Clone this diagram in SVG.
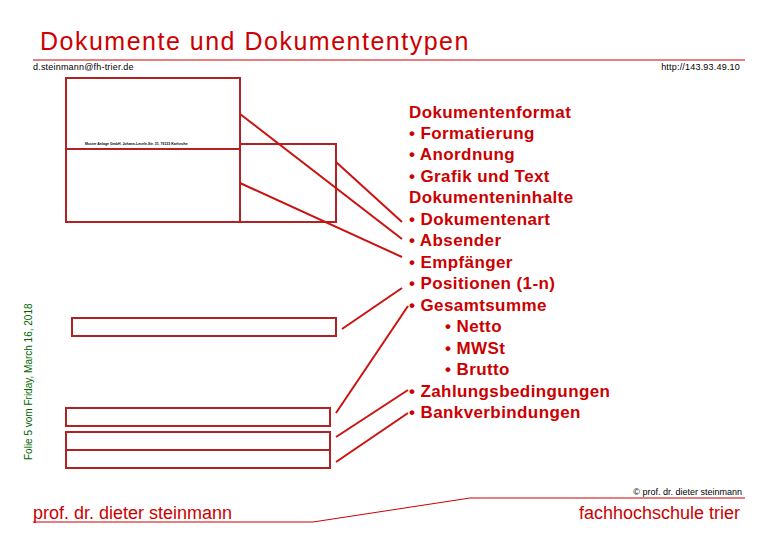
<svg xmlns="http://www.w3.org/2000/svg" width="780" height="540" viewBox="0 0 780 540">
<style>
text{font-family:"Liberation Sans",Arial,sans-serif}
.box{fill:none;stroke:#b22222;stroke-width:2}
.con line,.con polyline{stroke:#cc1111;stroke-width:2;fill:none}
.it{font-size:17px;font-weight:bold;fill:#cc0000;letter-spacing:0.4px}
</style>
<rect width="780" height="540" fill="#fff"/>
<text x="40" y="50" font-size="25" fill="#cc0000" letter-spacing="1.5">Dokumente und Dokumententypen</text>
<line x1="33" y1="60" x2="745" y2="60" stroke="#cc0000" stroke-width="1"/>
<text x="33" y="70" font-size="9" fill="#000" letter-spacing="0.2">d.steinmann@fh-trier.de</text>
<text x="740" y="70" font-size="9" fill="#000" text-anchor="end" letter-spacing="0.2">http://143.93.49.10</text>
<text transform="translate(32,460) rotate(-90)" font-size="10" fill="#006400">Folie 5 vom Friday, March 16, 2018</text>
<g id="doc-top"><rect class="box" x="66" y="78" width="174" height="144"/><line class="box" x1="66" y1="149" x2="240" y2="149"/><text x="85" y="145" font-size="3.5" font-weight="bold" fill="#000">Muster Anlage GmbH, Johann-Lesele-Str. 31, 76133 Karlsruhe</text></g>
<g id="doc-right"><rect class="box" x="240" y="144" width="96" height="78"/></g>
<g id="doc-bar1"><rect class="box" x="72" y="318" width="264" height="18"/></g>
<g id="doc-bar2"><rect class="box" x="66" y="408" width="264" height="18"/></g>
<g id="doc-bar3"><rect class="box" x="66" y="432" width="264" height="36"/><line class="box" x1="66" y1="450" x2="330" y2="450"/></g>
<g class="con" id="connectors">
<line x1="240" y1="114" x2="402" y2="239"/>
<line x1="336" y1="162" x2="402" y2="222"/>
<line x1="240" y1="183" x2="402" y2="257"/>
<line x1="402" y1="288" x2="342" y2="329"/>
<line x1="408" y1="306" x2="336" y2="413"/>
<line x1="408" y1="390" x2="336" y2="437"/>
<line x1="408" y1="413" x2="336" y2="462"/>
</g>
<g id="list">
<text class="it" x="409" y="118">Dokumentenformat</text>
<text class="it" x="409" y="139">• Formatierung</text>
<text class="it" x="409" y="160">• Anordnung</text>
<text class="it" x="409" y="182">• Grafik und Text</text>
<text class="it" x="409" y="203">Dokumenteninhalte</text>
<text class="it" x="409" y="225">• Dokumentenart</text>
<text class="it" x="409" y="246">• Absender</text>
<text class="it" x="409" y="268">• Empfänger</text>
<text class="it" x="409" y="289">• Positionen (1-n)</text>
<text class="it" x="409" y="311">• Gesamtsumme</text>
<text class="it" x="445" y="332">• Netto</text>
<text class="it" x="445" y="354">• MWSt</text>
<text class="it" x="445" y="375">• Brutto</text>
<text class="it" x="409" y="397">• Zahlungsbedingungen</text>
<text class="it" x="409" y="418">• Bankverbindungen</text>
</g>
<text x="742" y="495" font-size="9" fill="#000" text-anchor="end">© prof. dr. dieter steinmann</text>
<polyline points="33,522 313,522 470,498 745,498" fill="none" stroke="#cc0000" stroke-width="1"/>
<text x="33" y="519" font-size="18" fill="#cc0000">prof. dr. dieter steinmann</text>
<text x="740" y="519" font-size="18" fill="#cc0000" text-anchor="end">fachhochschule trier</text>
</svg>
